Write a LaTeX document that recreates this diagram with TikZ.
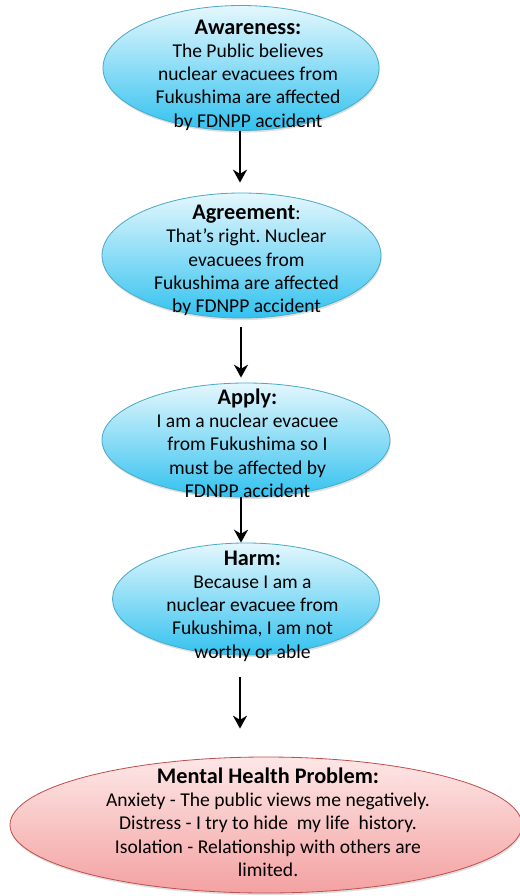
\documentclass[tikz,border=0pt]{standalone}
\usepackage{fontspec}
\setmainfont{Carlito}
\usetikzlibrary{shapes.geometric,arrows.meta,shadows}
\frenchspacing

\definecolor{blueTop}{HTML}{E4F7FD}
\definecolor{blueBot}{HTML}{33C2EF}
\definecolor{blueLine}{HTML}{4BAAC8}
\definecolor{redTop}{HTML}{FDE7E7}
\definecolor{redBot}{HTML}{F4A1A1}
\definecolor{redLine}{HTML}{C0504D}

\tikzset{
  bubble/.style={ellipse, draw=blueLine, line width=0.7pt,
    top color=blueTop, bottom color=blueBot,
    drop shadow={shadow xshift=0.6pt, shadow yshift=-1.8pt, opacity=0.25}},
  redbubble/.style={bubble, draw=redLine, top color=redTop, bottom color=redBot},
  txt/.style={align=center, inner sep=0pt, font=\fontsize{16.7}{19.9}\selectfont},
  flow/.style={-{Stealth[length=11pt, width=12pt, inset=3.5pt]}, line width=1.7pt}
}
\newcommand{\ttl}[1]{{\fontsize{19}{21}\selectfont\bfseries #1}}

\begin{document}
\begin{tikzpicture}[x=0.03cm, y=-0.03cm]
  \useasboundingbox (0,0) rectangle (519,896);

  % Awareness
  \node[bubble, minimum width=8.28cm, minimum height=3.75cm] (aware) at (241,68) {};
  \node[txt] (awareT) at (248,75) {\ttl{Awareness:}\\ The Public believes\\ nuclear evacuees from\\ Fukushima are affected\\ by FDNPP accident};

  % Agreement
  \node[bubble, minimum width=8.37cm, minimum height=3.75cm] (agree) at (241.5,255.5) {};
  \node[txt] (agreeT) at (246.5,260.5) {\ttl{Agreement}:\\ That’s right. Nuclear\\ evacuees from\\ Fukushima are affected\\ by FDNPP accident};

  % Apply
  \node[bubble, minimum width=8.64cm, minimum height=3.42cm] (apply) at (246,440) {};
  \node[txt] (applyT) at (247.5,443) {\ttl{Apply:}\\ I am a nuclear evacuee\\ from Fukushima so I\\ must be affected by\\ FDNPP accident};

  % Harm
  \node[bubble, minimum width=8.01cm, minimum height=3.36cm] (harm) at (246,599) {};
  \node[txt] (harmT) at (252.5,606) {\ttl{Harm:}\\ Because I am a\\ nuclear evacuee from\\ Fukushima, I am not\\ worthy or able};

  % Mental health problem
  \node[redbubble, minimum width=15.36cm, minimum height=4.08cm] (mental) at (266,825) {};
  \node[txt] (mentalT) at (268,822) {\ttl{Mental Health Problem:}\\ Anxiety - The public views me negatively.\\ Distress - I try to hide\ \ my life\ \ history.\\ Isolation - Relationship with others are\\ limited.};

  % Arrows
  \draw[flow, shorten >=0.3cm] (aware.south -| 240,0) -- (agree.north -| 240,0);
  \draw[flow, shorten <=0.27cm, shorten >=0.15cm] (agree.south -| 241,0) -- (apply.north -| 241,0);
  \draw[flow] (apply.south -| 241,0) -- (harm.north -| 241,0);
  \draw[flow, shorten <=0.66cm, shorten >=0.84cm] (harm.south -| 240,0) -- (mental.north -| 240,0);
\end{tikzpicture}
\end{document}
